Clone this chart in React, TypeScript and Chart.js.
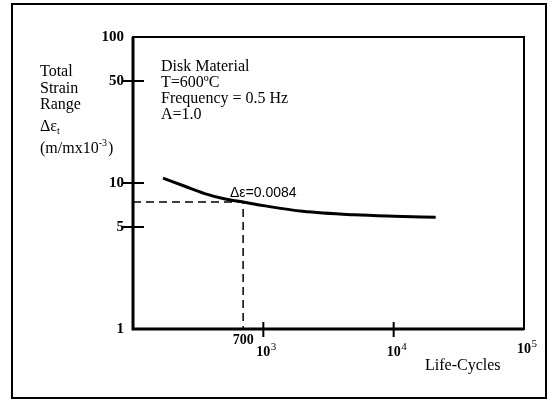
import React, { useEffect, useRef } from "react";
import { Chart, registerables } from "chart.js";

Chart.register(...registerables);

// ---- data ----
const cycles = [170, 250, 350, 500, 700, 1000, 2000, 5000, 10000, 21000];
const strainRange = [10.8, 9.5, 8.5, 7.8, 7.4, 7.0, 6.4, 6.05, 5.92, 5.83];
const guideCycles = [100, 700, 700];
const guideStrain = [7.4, 7.4, 1];

const xTicks = [700, 1000, 10000, 100000];
const xTickBase = ["700", "10", "10", "10"];
const xTickExp = ["", "3", "4", "5"];
const xTickLineHeights = [1.2, 2.86, 2.86, 2.5];
const yTicks = [1, 5, 10, 50, 100];
const yTickLabels = ["1", "5", "10", "50", "100"];
const xMarkTicks = [1000, 10000];
const yMarkTicks = [5, 10, 50];

const infoLines = ["Disk Material", "T=600ºC", "Frequency = 0.5 Hz", "A=1.0"];
const curveLabel = "Δε=0.0084";
const xTitle = "Life-Cycles";
const yTitleLines = ["Total", "Strain", "Range"];

const SERIF = "'Liberation Serif', 'DejaVu Serif', serif";
const SANS = "'Liberation Sans', Arial, sans-serif";

const decorPlugin = {
  id: "decor",
  afterDraw(chart: any) {
    const ctx = chart.ctx as CanvasRenderingContext2D;
    const { left, right, top, bottom } = chart.chartArea;
    const xs = chart.scales.x;
    const ys = chart.scales.y;
    ctx.save();
    ctx.strokeStyle = "#000";
    ctx.fillStyle = "#000";

    // outer frame
    ctx.lineWidth = 2;
    ctx.strokeRect(12, 4, 534, 394);

    // plot box
    ctx.lineWidth = 2;
    ctx.strokeRect(left, top, right - left, bottom - top);
    ctx.lineWidth = 3;
    ctx.beginPath();
    ctx.moveTo(left, top);
    ctx.lineTo(left, bottom);
    ctx.lineTo(right, bottom);
    ctx.stroke();

    // crossing tick marks
    ctx.lineWidth = 2;
    ctx.beginPath();
    yMarkTicks.forEach((v) => {
      const y = ys.getPixelForValue(v);
      ctx.moveTo(left - 11, y);
      ctx.lineTo(left + 11, y);
    });
    xMarkTicks.forEach((v) => {
      const x = xs.getPixelForValue(v);
      ctx.moveTo(x, bottom - 7);
      ctx.lineTo(x, bottom + 8);
    });
    ctx.stroke();

    // exponents of the x tick labels (bases are drawn by the scale)
    ctx.textBaseline = "middle";
    ctx.textAlign = "left";
    xTicks.forEach((v, i) => {
      if (!xTickExp[i]) return;
      const x = xs.getPixelForValue(v);
      const cy = bottom + 3 + (14 * xTickLineHeights[i]) / 2;
      ctx.font = `bold 14px ${SERIF}`;
      const bw = ctx.measureText(xTickBase[i]).width;
      ctx.font = `11px ${SERIF}`;
      ctx.fillText(xTickExp[i], x + bw / 2 + 0.5, cy - 5);
    });

    // info text
    ctx.font = `16px ${SERIF}`;
    infoLines.forEach((t, i) => {
      ctx.fillText(t, left + 28, top + 30 + i * 16);
    });

    // curve label
    ctx.font = `14px ${SANS}`;
    ctx.fillText(curveLabel, left + 97, 193);

    // x title
    ctx.font = `16px ${SERIF}`;
    ctx.fillText(xTitle, 425, 366);

    // y title block
    ctx.font = `16px ${SERIF}`;
    yTitleLines.forEach((t, i) => {
      ctx.fillText(t, 40, 72 + i * 16.5);
    });
    ctx.fillText("Δε", 40, 127);
    const w1 = ctx.measureText("Δε").width;
    ctx.font = `10px ${SERIF}`;
    ctx.fillText("t", 40 + w1, 131);
    ctx.font = `16px ${SERIF}`;
    const base = "(m/mx10";
    ctx.fillText(base, 40, 149);
    const w2 = ctx.measureText(base).width;
    ctx.font = `10px ${SERIF}`;
    ctx.fillText("-3", 40 + w2, 143);
    const w3 = ctx.measureText("-3").width;
    ctx.font = `16px ${SERIF}`;
    ctx.fillText(")", 40 + w2 + w3 + 1, 149);

    ctx.restore();
  },
};

export default function App() {
  const canvasRef = useRef<HTMLCanvasElement | null>(null);

  useEffect(() => {
    if (!canvasRef.current) return;
    const chart = new Chart(canvasRef.current, {
      type: "line",
      data: {
        datasets: [
          {
            label: "curve",
            data: cycles.map((c, i) => ({ x: c, y: strainRange[i] })),
            borderColor: "#000",
            borderWidth: 3,
            pointRadius: 0,
            cubicInterpolationMode: "monotone",
            fill: false,
          },
          {
            label: "guide",
            data: guideCycles.map((c, i) => ({ x: c, y: guideStrain[i] })),
            borderColor: "#000",
            borderWidth: 1.5,
            borderDash: [8, 5],
            pointRadius: 0,
            tension: 0,
            fill: false,
          },
        ],
      },
      options: {
        responsive: false,
        animation: false,
        devicePixelRatio: 1,
        layout: { padding: { top: 37, right: 29, left: 0, bottom: 0 } },
        plugins: {
          legend: { display: false },
          tooltip: { enabled: false },
        },
        scales: {
          x: {
            type: "logarithmic",
            min: 100,
            max: 100000,
            grid: { display: false, drawTicks: false },
            border: { display: false },
            afterBuildTicks: (scale: any) => {
              scale.ticks = xTicks.map((v) => ({ value: v }));
            },
            afterFit: (scale: any) => {
              scale.height = 72;
            },
            ticks: {
              autoSkip: false,
              maxRotation: 0,
              padding: 3,
              color: "#000",
              font: (ctx: any) => {
                const idx = xTicks.indexOf(ctx.tick ? ctx.tick.value : -1);
                return {
                  family: SERIF,
                  size: 14,
                  weight: "bold",
                  lineHeight: idx >= 0 ? xTickLineHeights[idx] : 1.2,
                };
              },
              callback: (v: any) => {
                const idx = xTicks.indexOf(Number(v));
                return idx >= 0 ? xTickBase[idx] : "";
              },
            },
          },
          y: {
            type: "logarithmic",
            min: 1,
            max: 100,
            grid: { display: false, drawTicks: false },
            border: { display: false },
            afterBuildTicks: (scale: any) => {
              scale.ticks = yTicks.map((v) => ({ value: v }));
            },
            afterFit: (scale: any) => {
              scale.width = 133;
            },
            ticks: {
              autoSkip: false,
              padding: 9,
              color: "#000",
              font: { family: SERIF, size: 15, weight: "bold" },
              callback: (v: any) => {
                const idx = yTicks.indexOf(Number(v));
                return idx >= 0 ? yTickLabels[idx] : "";
              },
            },
          },
        },
      },
      plugins: [decorPlugin],
    } as any);
    return () => chart.destroy();
  }, []);

  return (
    <div style={{ position: "absolute", left: 0, top: 0, width: 553, height: 401, background: "#fff" }}>
      <canvas ref={canvasRef} width={553} height={401} style={{ display: "block" }} />
    </div>
  );
}
